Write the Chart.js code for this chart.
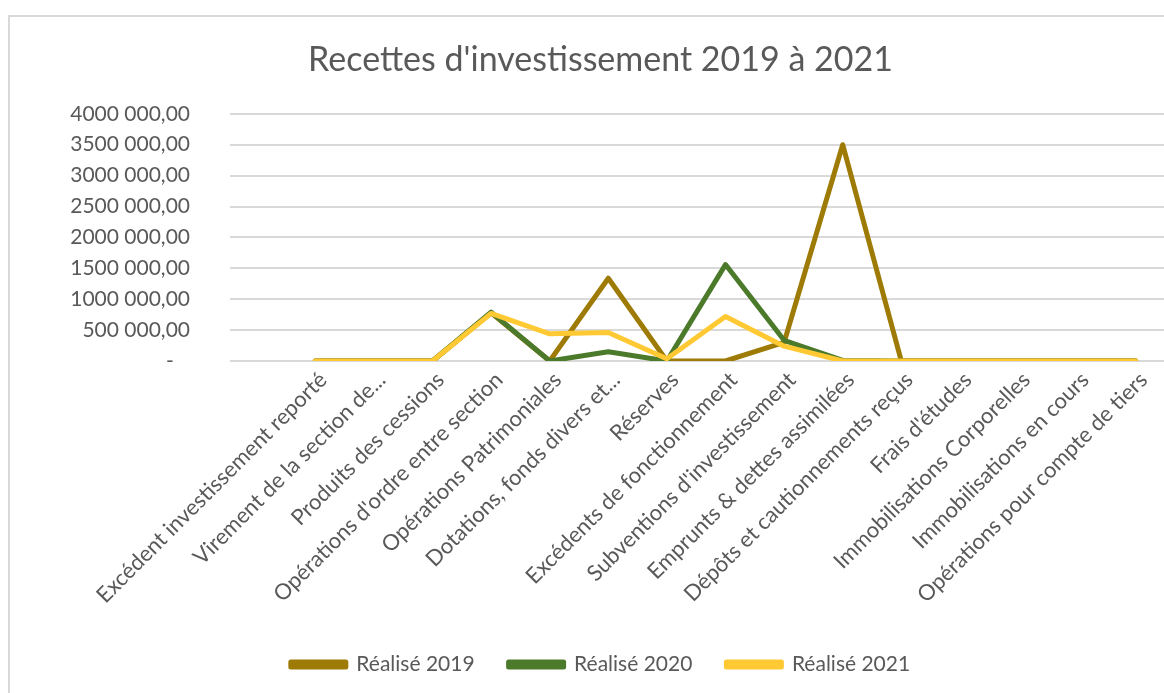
<!DOCTYPE html>
<html lang="fr">
<head>
<meta charset="utf-8">
<title>Recettes d'investissement</title>
<script src="https://cdn.jsdelivr.net/npm/chart.js@4.4.0/dist/chart.umd.min.js"></script>
<style>
  html, body { margin: 0; padding: 0; background: #fff; overflow: hidden; }
  #wrap { position: relative; width: 1200px; height: 693px; }
</style>
</head>
<body>
<div id="wrap"><canvas id="chart" width="1200" height="693"></canvas></div>
<script>
const categories = [
  "Excédent investissement reporté",
  "Virement de la section de...",
  "Produits des cessions",
  "Opérations d'ordre entre section",
  "Opérations Patrimoniales",
  "Dotations, fonds divers et...",
  "Réserves",
  "Excédents de fonctionnement",
  "Subventions d'investissement",
  "Emprunts & dettes assimilées",
  "Dépôts et cautionnements reçus",
  "Frais d'études",
  "Immobilisations Corporelles",
  "Immobilisations en cours",
  "Opérations pour compte de tiers",
];

const realise2019 = [0, 0, 0, 780000, 0, 1340000, 0, 0, 300000, 3500000, 0, 0, 0, 0, 0];
const realise2020 = [0, 0, 0, 790000, 0, 150000, 0, 1560000, 335000, 10000, 0, 0, 0, 0, 0];
const realise2021 = [0, 0, 0, 770000, 440000, 460000, 35000, 720000, 240000, 0, 0, 0, 0, 0, 0];

const seriesNames = ["Réalisé 2019", "Réalisé 2020", "Réalisé 2021"];
const seriesColors = ["#9E7B06", "#4C7A2B", "#FFC933"];

const yMin = 0;
const yMax = 4000000;
const yStep = 500000;

const textColor = "#595959";
const gridColor = "#D9D9D9";
const fontFamily = "Lato, 'Open Sans', sans-serif";

// "4000 000,00" style, with a dash for zero
function formatAmount(v) {
  if (v === 0) return "-   ";
  const thousands = Math.floor(v / 1000);
  const rest = String(v % 1000).padStart(3, "0");
  return thousands + " " + rest + ",00";
}

const framePlugin = {
  id: "frame",
  beforeDraw(chart) {
    const ctx = chart.ctx;
    ctx.save();
    ctx.fillStyle = "#fff";
    ctx.fillRect(0, 0, chart.width, chart.height);
    ctx.strokeStyle = gridColor;
    ctx.lineWidth = 2;
    ctx.strokeRect(9, 16, 1182, 700);
    ctx.restore();
  },
};

const allSeries = [realise2019, realise2020, realise2021];

new Chart(document.getElementById("chart"), {
  type: "line",
  data: {
    labels: categories,
    datasets: allSeries.map((values, i) => ({
      label: seriesNames[i],
      data: values,
      borderColor: seriesColors[i],
      backgroundColor: seriesColors[i],
      borderWidth: 5,
      borderJoinStyle: "round",
      borderCapStyle: "round",
      pointRadius: 0,
      tension: 0,
      fill: false,
      // later years drawn on top
      order: 3 - i,
    })),
  },
  options: {
    responsive: false,
    devicePixelRatio: 1,
    animation: false,
    layout: { padding: { left: 36, right: 35, top: 0, bottom: 8 } },
    plugins: {
      title: {
        display: true,
        text: "Recettes d'investissement 2019 à 2021",
        color: textColor,
        font: { family: fontFamily, size: 34, weight: "normal", lineHeight: 1.2 },
        padding: { top: 40, bottom: 33 },
      },
      legend: {
        position: "bottom",
        labels: {
          color: textColor,
          font: { family: fontFamily, size: 21 },
          boxWidth: 55,
          boxHeight: 5,
          padding: 34,
          sort: (a, b) => a.datasetIndex - b.datasetIndex,
        },
      },
      tooltip: { enabled: false },
    },
    scales: {
      x: {
        offset: true,
        grid: { display: false, drawTicks: false },
        border: { display: false },
        ticks: {
          color: textColor,
          font: { family: fontFamily, size: 22 },
          minRotation: 45,
          maxRotation: 45,
          autoSkip: false,
          padding: 6,
          labelOffset: 8,
        },
        afterFit(scale) { scale.height = 259; },
      },
      y: {
        min: yMin,
        max: yMax,
        border: { display: false },
        grid: { color: gridColor, lineWidth: 2, tickLength: 56, drawTicks: true },
        ticks: {
          stepSize: yStep,
          color: textColor,
          font: { family: fontFamily, size: 21 },
          padding: 40,
          callback: (v) => formatAmount(v),
        },
        afterFit(scale) { scale.width = 250; },
      },
    },
  },
  plugins: [framePlugin],
});
</script>
</body>
</html>
